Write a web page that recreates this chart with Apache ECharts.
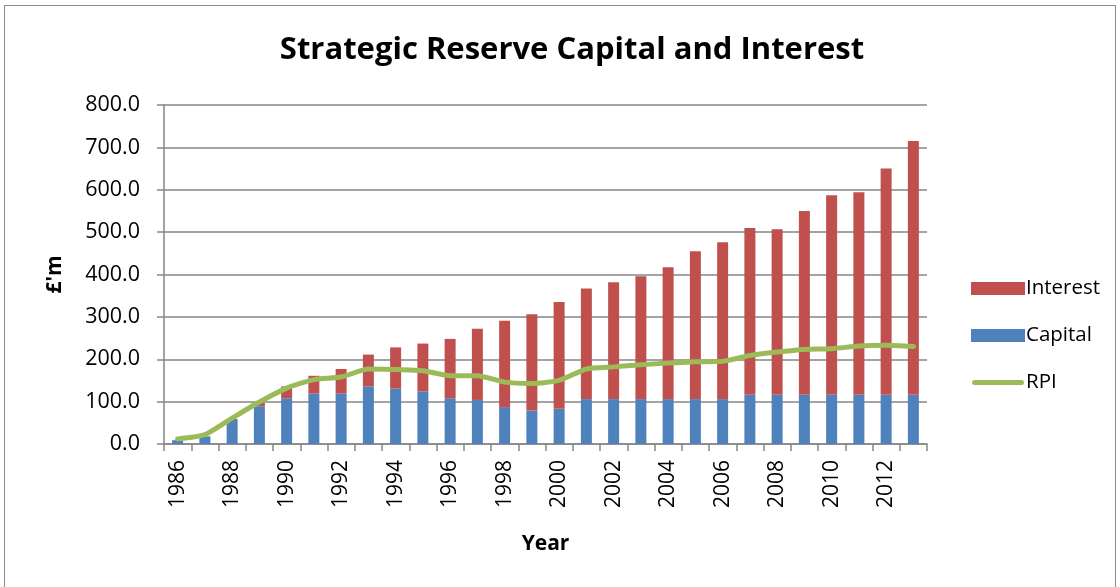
<!DOCTYPE html>
<html>
<head>
<meta charset="utf-8">
<script src="https://cdn.jsdelivr.net/npm/echarts@6/dist/echarts.min.js"></script>
<style>
html,body{margin:0;padding:0;background:#fff;}
#frame{position:absolute;left:4px;top:5px;width:1112px;height:600px;border:1px solid #8c8c8c;box-sizing:border-box;}
#chart{position:absolute;left:0;top:0;width:1120px;height:587px;}
</style>
</head>
<body>
<div id="frame"></div>
<div id="chart"></div>
<script>
const years = ['1986','1987','1988','1989','1990','1991','1992','1993','1994','1995','1996','1997','1998','1999','2000','2001','2002','2003','2004','2005','2006','2007','2008','2009','2010','2011','2012','2013'];
const capital = [9,18,59,89,108,119,119,136,131,124,108,104,87,79,83,106,106,106,106,106,106,116,116,116,116,116,116,116];
const interest = [0,0,0,8,28,42,58,75,97,113,140,168,204,227,252,261,276,290,311,349,370,394,391,434,471,478,534,599];
const rpi = [12,22,61,99,132,152,158,177,176,173,161,161,146,143,150,177,182,187,191,194,195,209,217,223,225,231,233,230];
const yTicks = {min:0, max:800, interval:100};

const FONT = "'Open Sans', sans-serif";
const lineIcon = 'path://M0,0L0.01,0L0.01,0.01Z M0,13L0.01,13L0.01,12.99Z M2.5,4L49.5,4A2.5,2.5 0 0 1 49.5,9L2.5,9A2.5,2.5 0 0 1 2.5,4Z';
const chart = echarts.init(document.getElementById('chart'), null, {renderer:'canvas'});
chart.setOption({
  animation:false,
  textStyle:{fontFamily:FONT, color:'#000'},
  title:{
    text:'Strategic Reserve Capital and Interest',
    left:567, top:30, textAlign:'center',
    textStyle:{fontFamily:FONT, fontSize:31, fontWeight:'bold', color:'#000'}
  },
  grid:{left:164, right:193, top:105, bottom:143, containLabel:false},
  legend:{
    orient:'vertical', left:966, top:273,
    itemWidth:54, itemHeight:13, itemGap:26,
    textStyle:{fontFamily:FONT, fontSize:20.5, color:'#000', padding:[0,0,0,-4]},
    data:[
      {name:'Interest', icon:'rect'},
      {name:'Capital', icon:'rect'},
      {name:'RPI', icon:lineIcon}
    ]
  },
  xAxis:{
    type:'category', data:years,
    name:'Year', nameLocation:'middle', nameGap:90,
    nameTextStyle:{fontFamily:FONT, fontSize:21, fontWeight:'bold', color:'#000'},
    axisLine:{lineStyle:{color:'#868686', width:1.5}},
    axisTick:{show:true, interval:0, length:7, lineStyle:{color:'#868686', width:1.5}},
    axisLabel:{interval:1, rotate:90, margin:16, fontFamily:FONT, fontSize:21, color:'#000'}
  },
  yAxis:{
    type:'value', min:yTicks.min, max:yTicks.max, interval:yTicks.interval,
    name:"£'m", nameLocation:'middle', nameGap:98, nameRotate:90,
    nameTextStyle:{fontFamily:FONT, fontSize:21, fontWeight:'bold', color:'#000'},
    axisLine:{show:true, lineStyle:{color:'#868686', width:1.5}},
    axisTick:{show:true, length:7, lineStyle:{color:'#868686', width:1.5}},
    splitLine:{lineStyle:{color:'#868686', width:1.5}},
    axisLabel:{margin:24, fontFamily:FONT, fontSize:21.5, color:'#000', formatter:v=>v.toFixed(1)}
  },
  series:[
    {name:'Capital', type:'bar', stack:'total', data:capital, barWidth:11,
     itemStyle:{color:'#4F81BD'}},
    {name:'Interest', type:'bar', stack:'total', data:interest, barWidth:11,
     itemStyle:{color:'#C0504D'}},
    {name:'RPI', type:'line', data:rpi, symbol:'none', smooth:0.2,
     lineStyle:{color:'#9BBB59', width:5, cap:'round', join:'round'}, itemStyle:{color:'#9BBB59'}}
  ]
});
</script>
</body>
</html>
